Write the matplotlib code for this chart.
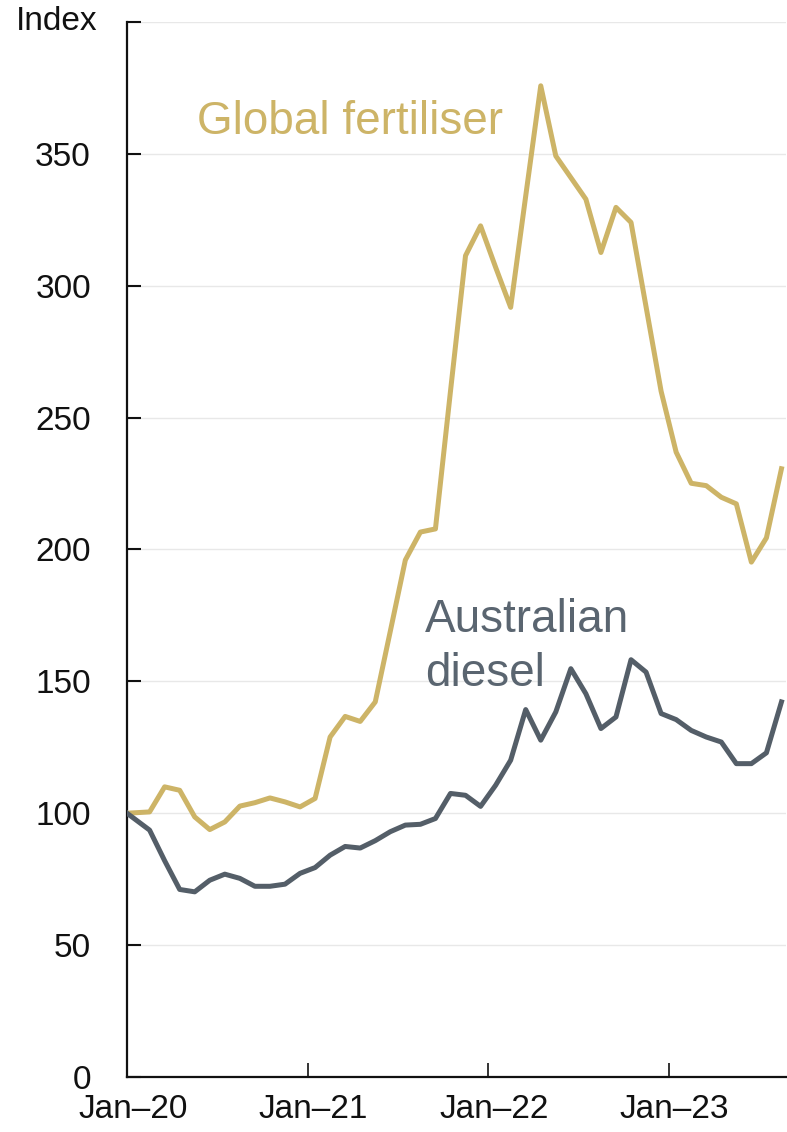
import numpy as np
import matplotlib.pyplot as plt
import matplotlib.transforms as mtransforms

plt.rcParams['font.family'] = ['Liberation Sans', 'DejaVu Sans']

# monthly index, Jan-2020 = 100, Jan-20 .. Aug-23
fertiliser = [100, 100.5, 110, 108.7, 98.6, 93.8, 96.7, 102.7, 104, 105.8, 104.3, 102.4,
              105.6, 128.9, 136.7, 134.8, 142.2, 169, 196, 206.6, 207.8, 260, 311.4, 322.7,
              307, 291.8, 334, 375.8, 349.2, 341, 332.8, 312.6, 329.7, 324,
              292, 260, 236.9, 225.1, 224.2, 219.8, 217.3, 195.2, 204.4, 230.6]
diesel = [100, 93.6, 82, 71.1, 70.2, 74.6, 76.9, 75.3, 72.3, 72.3, 73.1, 77.2,
          79.4, 84.1, 87.4, 86.8, 89.6, 93, 95.5, 95.8, 98, 107.5, 106.8, 102.6,
          110.6, 120.1, 139.3, 127.7, 138.4, 154.8, 145.3, 132.1, 136.5, 158.2,
          153.5, 137.8, 135.5, 131.4, 128.9, 127, 118.8, 118.8, 122.9, 142.2]
tick_labels = ['Jan\u201320', 'Jan\u201321', 'Jan\u201322', 'Jan\u201323']

gold = '#CDB467'
grey = '#545E68'

n = len(fertiliser)
# base month drawn at the axis, later months at mid-month
x = np.r_[0, np.arange(1, n) + 0.5]

fig = plt.figure(figsize=(7.87, 11.32), dpi=100)
ax = fig.add_axes([0.1614, 0.0486, 0.8373, 0.932])

for v in range(50, 401, 50):
    ax.axhline(v, color='#E8E8E8', lw=1.0, zorder=0)

ax.plot(x, fertiliser, color=gold, lw=3.6, solid_joinstyle='round', zorder=3)
ax.plot(x, diesel, color=grey, lw=3.6, solid_joinstyle='round', zorder=3)

ax.set_xlim(0, 43.8)
ax.set_ylim(0, 400)

ax.set_yticks(range(0, 401, 50))
ax.set_yticklabels([str(v) for v in range(0, 351, 50)] + [''])
ax.set_xticks([0, 12, 24, 36])
ax.set_xticklabels(tick_labels)

ax.tick_params(axis='y', direction='in', length=10, width=1.5, pad=26, labelsize=24,
               colors='#111111')
ax.tick_params(axis='x', direction='in', length=10, width=1.2, pad=12, labelsize=24,
               colors='#111111')
shift = mtransforms.ScaledTranslation(0.06, 0, fig.dpi_scale_trans)
for lab in ax.get_xticklabels():
    lab.set_transform(lab.get_transform() + shift)

for s in ['top', 'right']:
    ax.spines[s].set_visible(False)
for s in ['left', 'bottom']:
    ax.spines[s].set_linewidth(1.6)
    ax.spines[s].set_color('#111111')

ax.text(-0.045, 1.0, 'Index', transform=ax.transAxes, ha='right', va='center',
        fontsize=24, color='#111111')

ax.text(4.65, 362, 'Global fertiliser', color=gold, fontsize=33, va='center', ha='left')
ax.text(19.8, 163, 'Australian\ndiesel', color='#5A6570', fontsize=33, va='center',
        ha='left', linespacing=1.3)

fig.savefig('out.png', dpi=100)
